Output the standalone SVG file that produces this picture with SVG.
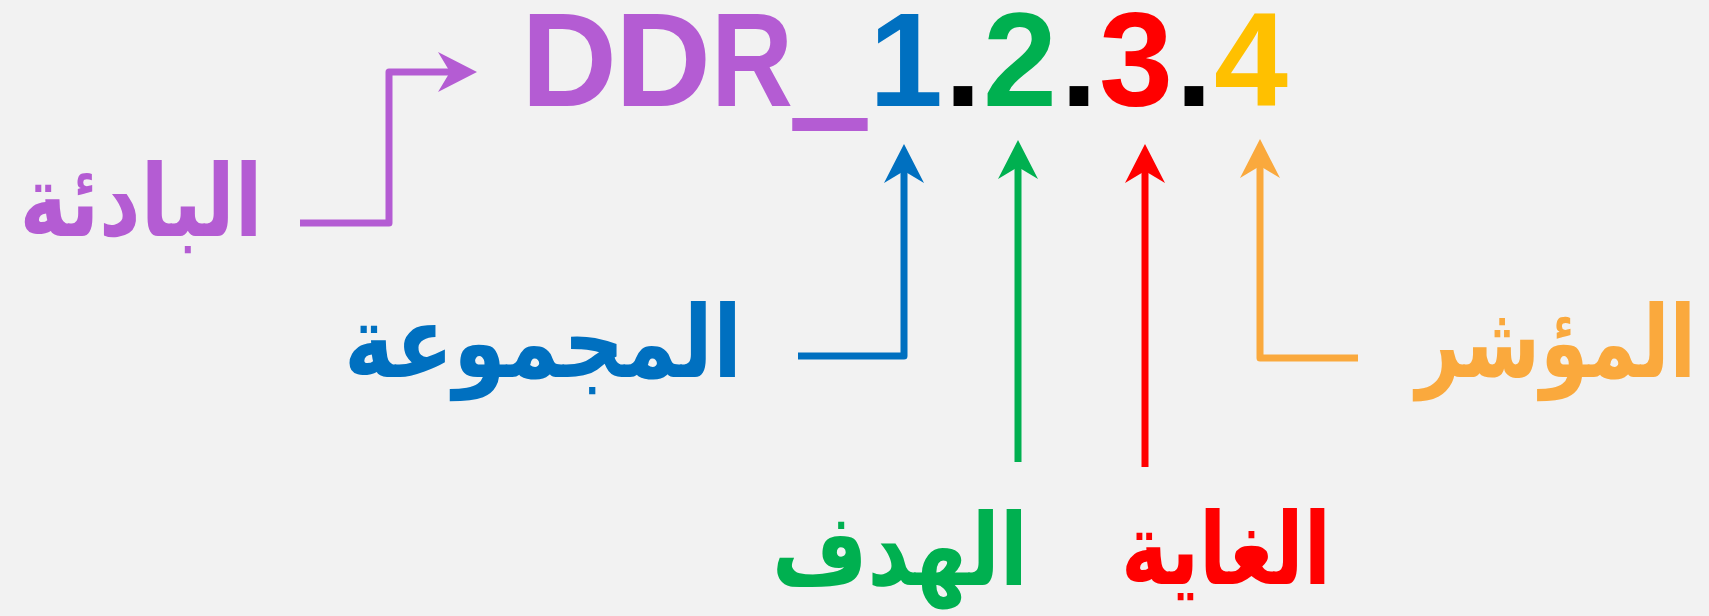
<svg xmlns="http://www.w3.org/2000/svg" width="1709" height="616" viewBox="0 0 1709 616">
  <defs>
    <style>
      .title { font-family: "Liberation Sans", Arial, sans-serif; font-weight: bold; font-size: 133px; text-anchor: middle; }
      .ar { font-family: "DejaVu Sans", "Noto Sans", sans-serif; font-weight: bold; font-size: 100px; text-anchor: middle; }
      .conn { fill: none; stroke-width: 7; stroke-linejoin: round; stroke-linecap: butt; }
    </style>
    <marker id="ah-purple" viewBox="0 0 39 40" markerWidth="39" markerHeight="40" refX="13" refY="20" orient="auto" markerUnits="userSpaceOnUse">
      <path d="M0,0 L39,20 L0,40 L12,20 Z" fill="#B45CD3"/>
    </marker>
    <marker id="ah-blue" viewBox="0 0 39 40" markerWidth="39" markerHeight="40" refX="13" refY="20" orient="auto" markerUnits="userSpaceOnUse">
      <path d="M0,0 L39,20 L0,40 L12,20 Z" fill="#0070C0"/>
    </marker>
    <marker id="ah-green" viewBox="0 0 39 40" markerWidth="39" markerHeight="40" refX="13" refY="20" orient="auto" markerUnits="userSpaceOnUse">
      <path d="M0,0 L39,20 L0,40 L12,20 Z" fill="#00B050"/>
    </marker>
    <marker id="ah-red" viewBox="0 0 39 40" markerWidth="39" markerHeight="40" refX="13" refY="20" orient="auto" markerUnits="userSpaceOnUse">
      <path d="M0,0 L39,20 L0,40 L12,20 Z" fill="#FF0000"/>
    </marker>
    <marker id="ah-orange" viewBox="0 0 39 40" markerWidth="39" markerHeight="40" refX="13" refY="20" orient="auto" markerUnits="userSpaceOnUse">
      <path d="M0,0 L39,20 L0,40 L12,20 Z" fill="#FAA93D"/>
    </marker>
  </defs>

  <rect x="0" y="0" width="1709" height="616" fill="#F2F2F2"/>

  <g id="title">
    <text class="title" y="106"><tspan x="569" fill="#B45CD3">D</tspan><tspan x="663" fill="#B45CD3">D</tspan><tspan x="752" fill="#B45CD3" textLength="82" lengthAdjust="spacingAndGlyphs">R</tspan><tspan x="830" dy="5" fill="#B45CD3" stroke="#B45CD3" stroke-width="8" textLength="66" lengthAdjust="spacingAndGlyphs">_</tspan><tspan x="906" dy="-5" fill="#0070C0">1</tspan><tspan x="963" fill="#000000">.</tspan><tspan x="1020" fill="#00B050">2</tspan><tspan x="1079" fill="#000000">.</tspan><tspan x="1136" fill="#FF0000">3</tspan><tspan x="1194" fill="#000000">.</tspan><tspan x="1251" fill="#FFC000">4</tspan></text>
  </g>

  <g id="prefix">
    <text class="ar" x="141" y="236" fill="#B45CD3" textLength="243" lengthAdjust="spacingAndGlyphs">البادئة</text>
  </g>
  <g id="group">
    <text class="ar" x="543" y="377" fill="#0070C0" textLength="398" lengthAdjust="spacingAndGlyphs">المجموعة</text>
  </g>
  <g id="target">
    <text class="ar" x="900" y="585" fill="#00B050" textLength="256" lengthAdjust="spacingAndGlyphs">الهدف</text>
  </g>
  <g id="goal">
    <text class="ar" x="1226" y="584" fill="#FF0000" textLength="210" lengthAdjust="spacingAndGlyphs">الغاية</text>
  </g>
  <g id="indicator">
    <text class="ar" x="1556" y="377" fill="#FAA93D" textLength="280" lengthAdjust="spacingAndGlyphs">المؤشر</text>
  </g>

  <g id="connectors">
    <path class="conn" stroke="#B45CD3" d="M300,223 H389 V72 H451" marker-end="url(#ah-purple)"/>
    <path class="conn" stroke="#0070C0" d="M798,356 H904 V170" marker-end="url(#ah-blue)"/>
    <path class="conn" stroke="#00B050" d="M1018,462 V166" marker-end="url(#ah-green)"/>
    <path class="conn" stroke="#FF0000" d="M1145,467 V170" marker-end="url(#ah-red)"/>
    <path class="conn" stroke="#FAA93D" d="M1358,358 H1260 V165" marker-end="url(#ah-orange)"/>
  </g>
</svg>
